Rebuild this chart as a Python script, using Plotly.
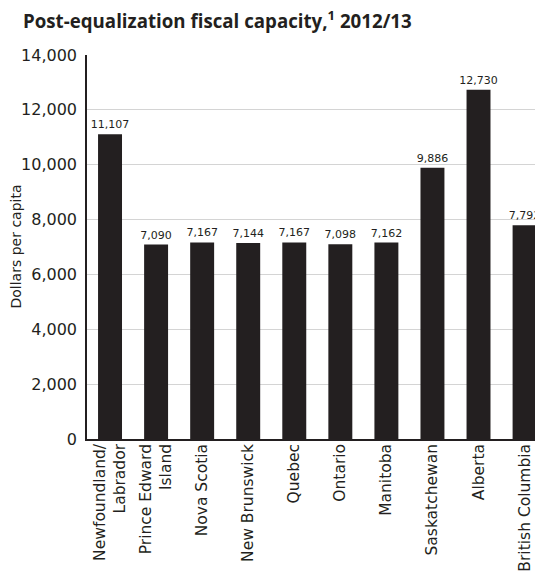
import plotly.graph_objects as go

provinces = ["Newfoundland/<br>Labrador", "Prince Edward<br>Island", "Nova Scotia", "New Brunswick",
             "Quebec", "Ontario", "Manitoba", "Saskatchewan", "Alberta", "British Columbia"]
values = [11107, 7090, 7167, 7144, 7167, 7098, 7162, 9886, 12730, 7792]
value_labels = ["11,107", "7,090", "7,167", "7,144", "7,167", "7,098", "7,162", "9,886", "12,730", "7,792"]
y_ticks = [0, 2000, 4000, 6000, 8000, 10000, 12000, 14000]
y_tick_labels = ["0", "2,000", "4,000", "6,000", "8,000", "10,000", "12,000", "14,000"]

ink = "#231f20"
body_font = "DejaVu Sans, sans-serif"
title_font = "Open Sans, DejaVu Sans, sans-serif"

W, H = 535, 568
L, R, T, B = 79, 0, 47, 137
PW = W - L - R

fig = go.Figure(go.Bar(
    x=list(range(len(provinces))), y=values,
    marker=dict(color=ink, line=dict(width=0)),
    text=value_labels, textposition="outside", cliponaxis=False,
    constraintext="none",
    textfont=dict(size=11, color=ink, family=body_font),
))

fig.update_layout(
    width=W, height=H,
    margin=dict(l=L, r=R, t=T, b=B),
    paper_bgcolor="white", plot_bgcolor="white",
    bargap=0.48,
    showlegend=False,
    font=dict(family=body_font, color=ink),
    title=dict(text="<b>Post-equalization fiscal capacity,<sup>1</sup> 2012/13</b>",
               x=15 / W, xanchor="left", xref="container",
               y=1 - 7 / H, yanchor="top", yref="container",
               font=dict(size=18.7, color=ink, family=title_font)),
    xaxis=dict(
        tickmode="array", tickvals=list(range(len(provinces))), ticktext=provinces,
        tickangle=-90, range=[-0.5, 9.4],
        showline=True, linecolor=ink, linewidth=1.5,
        ticks="", showgrid=False,
        ticklabelstandoff=-3,
        tickfont=dict(size=15.5, color=ink, family=body_font),
    ),
    yaxis=dict(
        range=[0, 14000], tickmode="array", tickvals=y_ticks, ticktext=y_tick_labels,
        showline=True, linecolor=ink, linewidth=1.5,
        ticks="", ticklabelstandoff=5,
        showgrid=True, gridcolor="#d4d4d4", gridwidth=1,
        zeroline=False,
        tickfont=dict(size=16, color=ink, family=body_font),
    ),
    annotations=[dict(
        text="Dollars per capita", xref="paper", yref="paper",
        x=(7.5 - L) / PW, y=0.5, xanchor="center", yanchor="middle",
        textangle=-90, showarrow=False,
        font=dict(size=14, color=ink, family=body_font),
    )],
)

fig.write_html("out.html")
